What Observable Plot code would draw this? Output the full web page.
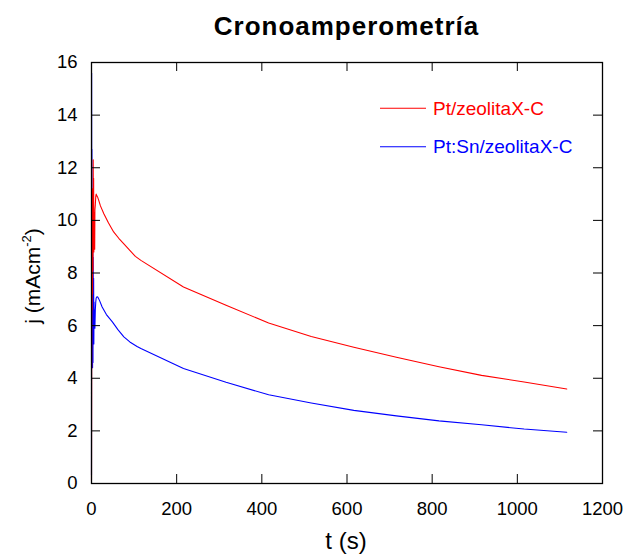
<!DOCTYPE html>
<html><head><meta charset="utf-8">
<script src="https://cdn.jsdelivr.net/npm/d3@7"></script>
<script src="https://cdn.jsdelivr.net/npm/@observablehq/plot@0.6"></script>
<style>
body{margin:0;background:#fff;font-family:"Liberation Sans",Arial,sans-serif;}
#title{box-sizing:border-box;width:624px;height:50px;line-height:52px;padding-left:91px;padding-right:22px;text-align:center;font-weight:bold;font-size:26px;letter-spacing:1px;color:#000;}
#chart svg{display:block;}
</style></head>
<body>
<div id="title">Cronoamperometría</div>
<div id="chart"></div>
<script>
const seriesNames = ["Pt/zeolitaX-C", "Pt:Sn/zeolitaX-C"];
const seriesColors = ["#ff0000", "#0000ff"];

const tRed = [0, 0.5, 1, 1.5, 2, 2.5, 3, 3.5, 4, 4.5, 5, 5.5, 6, 6.5, 7, 7.5, 8, 9, 10, 11, 12, 14, 17, 21, 29, 40, 52, 64, 76, 90, 103, 116, 216, 316, 416, 516, 616, 716, 816, 916, 1016, 1116];
const jRed = [0.1, 5.9, 9.4, 6.6, 11.2, 7.2, 10.6, 8.1, 12.3, 9.0, 11.6, 8.8, 10.3, 9.1, 9.7, 8.9, 10.4, 10.6, 10.9, 11.0, 10.95, 10.9, 10.76, 10.55, 10.25, 9.9, 9.56, 9.32, 9.11, 8.86, 8.63, 8.48, 7.47, 6.77, 6.10, 5.59, 5.18, 4.80, 4.44, 4.11, 3.86, 3.59];

const tBlue = [0, 0.3, 0.6, 1, 1.5, 2, 2.5, 3, 3.5, 4, 4.5, 5, 5.5, 6, 6.5, 7, 8, 9, 10, 11, 13, 15, 19, 25, 35, 49, 62, 76, 90, 107, 116, 216, 316, 416, 516, 616, 716, 816, 916, 1016, 1116];
const jBlue = [0.3, 15.6, 4.5, 12.7, 5.1, 11.1, 4.4, 9.9, 4.6, 8.6, 6.1, 7.8, 5.3, 6.9, 6.2, 6.6, 5.9, 6.6, 6.9, 7.05, 7.1, 7.08, 6.95, 6.71, 6.42, 6.14, 5.85, 5.57, 5.38, 5.21, 5.13, 4.37, 3.85, 3.37, 3.06, 2.78, 2.57, 2.38, 2.23, 2.07, 1.95];

const xTicks = [0, 200, 400, 600, 800, 1000, 1200];
const yTicks = [0, 2, 4, 6, 8, 10, 12, 14, 16];

const red = tRed.map((t, i) => ({t, j: jRed[i]}));
const blue = tBlue.map((t, i) => ({t, j: jBlue[i]}));

const W = 624, H = 509;
const mL = 91, mR = 22, mT = 12, mB = 76;
const fw = W - mL - mR, fh = H - mT - mB, tk = 9;

const chart = Plot.plot({
  width: W, height: H,
  marginLeft: mL, marginRight: mR, marginTop: mT, marginBottom: mB,
  style: {fontFamily: '"Liberation Sans", Arial, sans-serif', fontSize: "18.5px", color: "#000", background: "#fff"},
  x: {domain: [0, 1200], ticks: 6, tickFormat: d3.format("d"), tickSize: 0, tickPadding: 18, label: null},
  y: {domain: [0, 16], ticks: 8, tickFormat: d3.format("d"), tickSize: 0, tickPadding: 14, label: null},
  marks: [
    Plot.line(blue, {x: "t", y: "j", stroke: seriesColors[1], strokeWidth: 1.1}),
    Plot.line(red, {x: "t", y: "j", stroke: seriesColors[0], strokeWidth: 1.1}),
    Plot.tickX(xTicks, {x: d => d, insetTop: fh - tk, stroke: "#000"}),
    Plot.tickX(xTicks, {x: d => d, insetBottom: fh - tk, stroke: "#000"}),
    Plot.tickY(yTicks, {y: d => d, insetRight: fw - tk, stroke: "#000"}),
    Plot.tickY(yTicks, {y: d => d, insetLeft: fw - tk, stroke: "#000"}),
    Plot.frame({stroke: "#000", strokeWidth: 1.3})
  ]
});
document.getElementById("chart").appendChild(chart);

const svg = d3.select(chart);
// axis titles
svg.append("text")
  .attr("x", 346).attr("y", 499)
  .attr("text-anchor", "middle")
  .attr("font-size", 24).attr("fill", "#000")
  .text("t (s)");
const yl = svg.append("text")
  .attr("transform", "translate(40,226) rotate(-90)")
  .attr("text-anchor", "middle")
  .attr("font-size", 21).attr("fill", "#000");
yl.append("tspan").text("j (mAcm");
yl.append("tspan").attr("font-size", 13).attr("dy", -9).text("-2");
yl.append("tspan").attr("dy", 9).text(")");

// legend
const lg = svg.append("g").attr("text-anchor", "start");
seriesNames.forEach((name, i) => {
  const y = [58.3, 96.7][i];
  lg.append("line").attr("x1", 380).attr("x2", 426).attr("y1", y).attr("y2", y)
    .attr("stroke", seriesColors[i]).attr("stroke-width", 1.1);
  lg.append("text").attr("x", 433).attr("y", y + 6.5).attr("text-anchor", "start")
    .attr("font-size", 19).attr("fill", seriesColors[i]).text(name);
});
</script>
</body></html>
